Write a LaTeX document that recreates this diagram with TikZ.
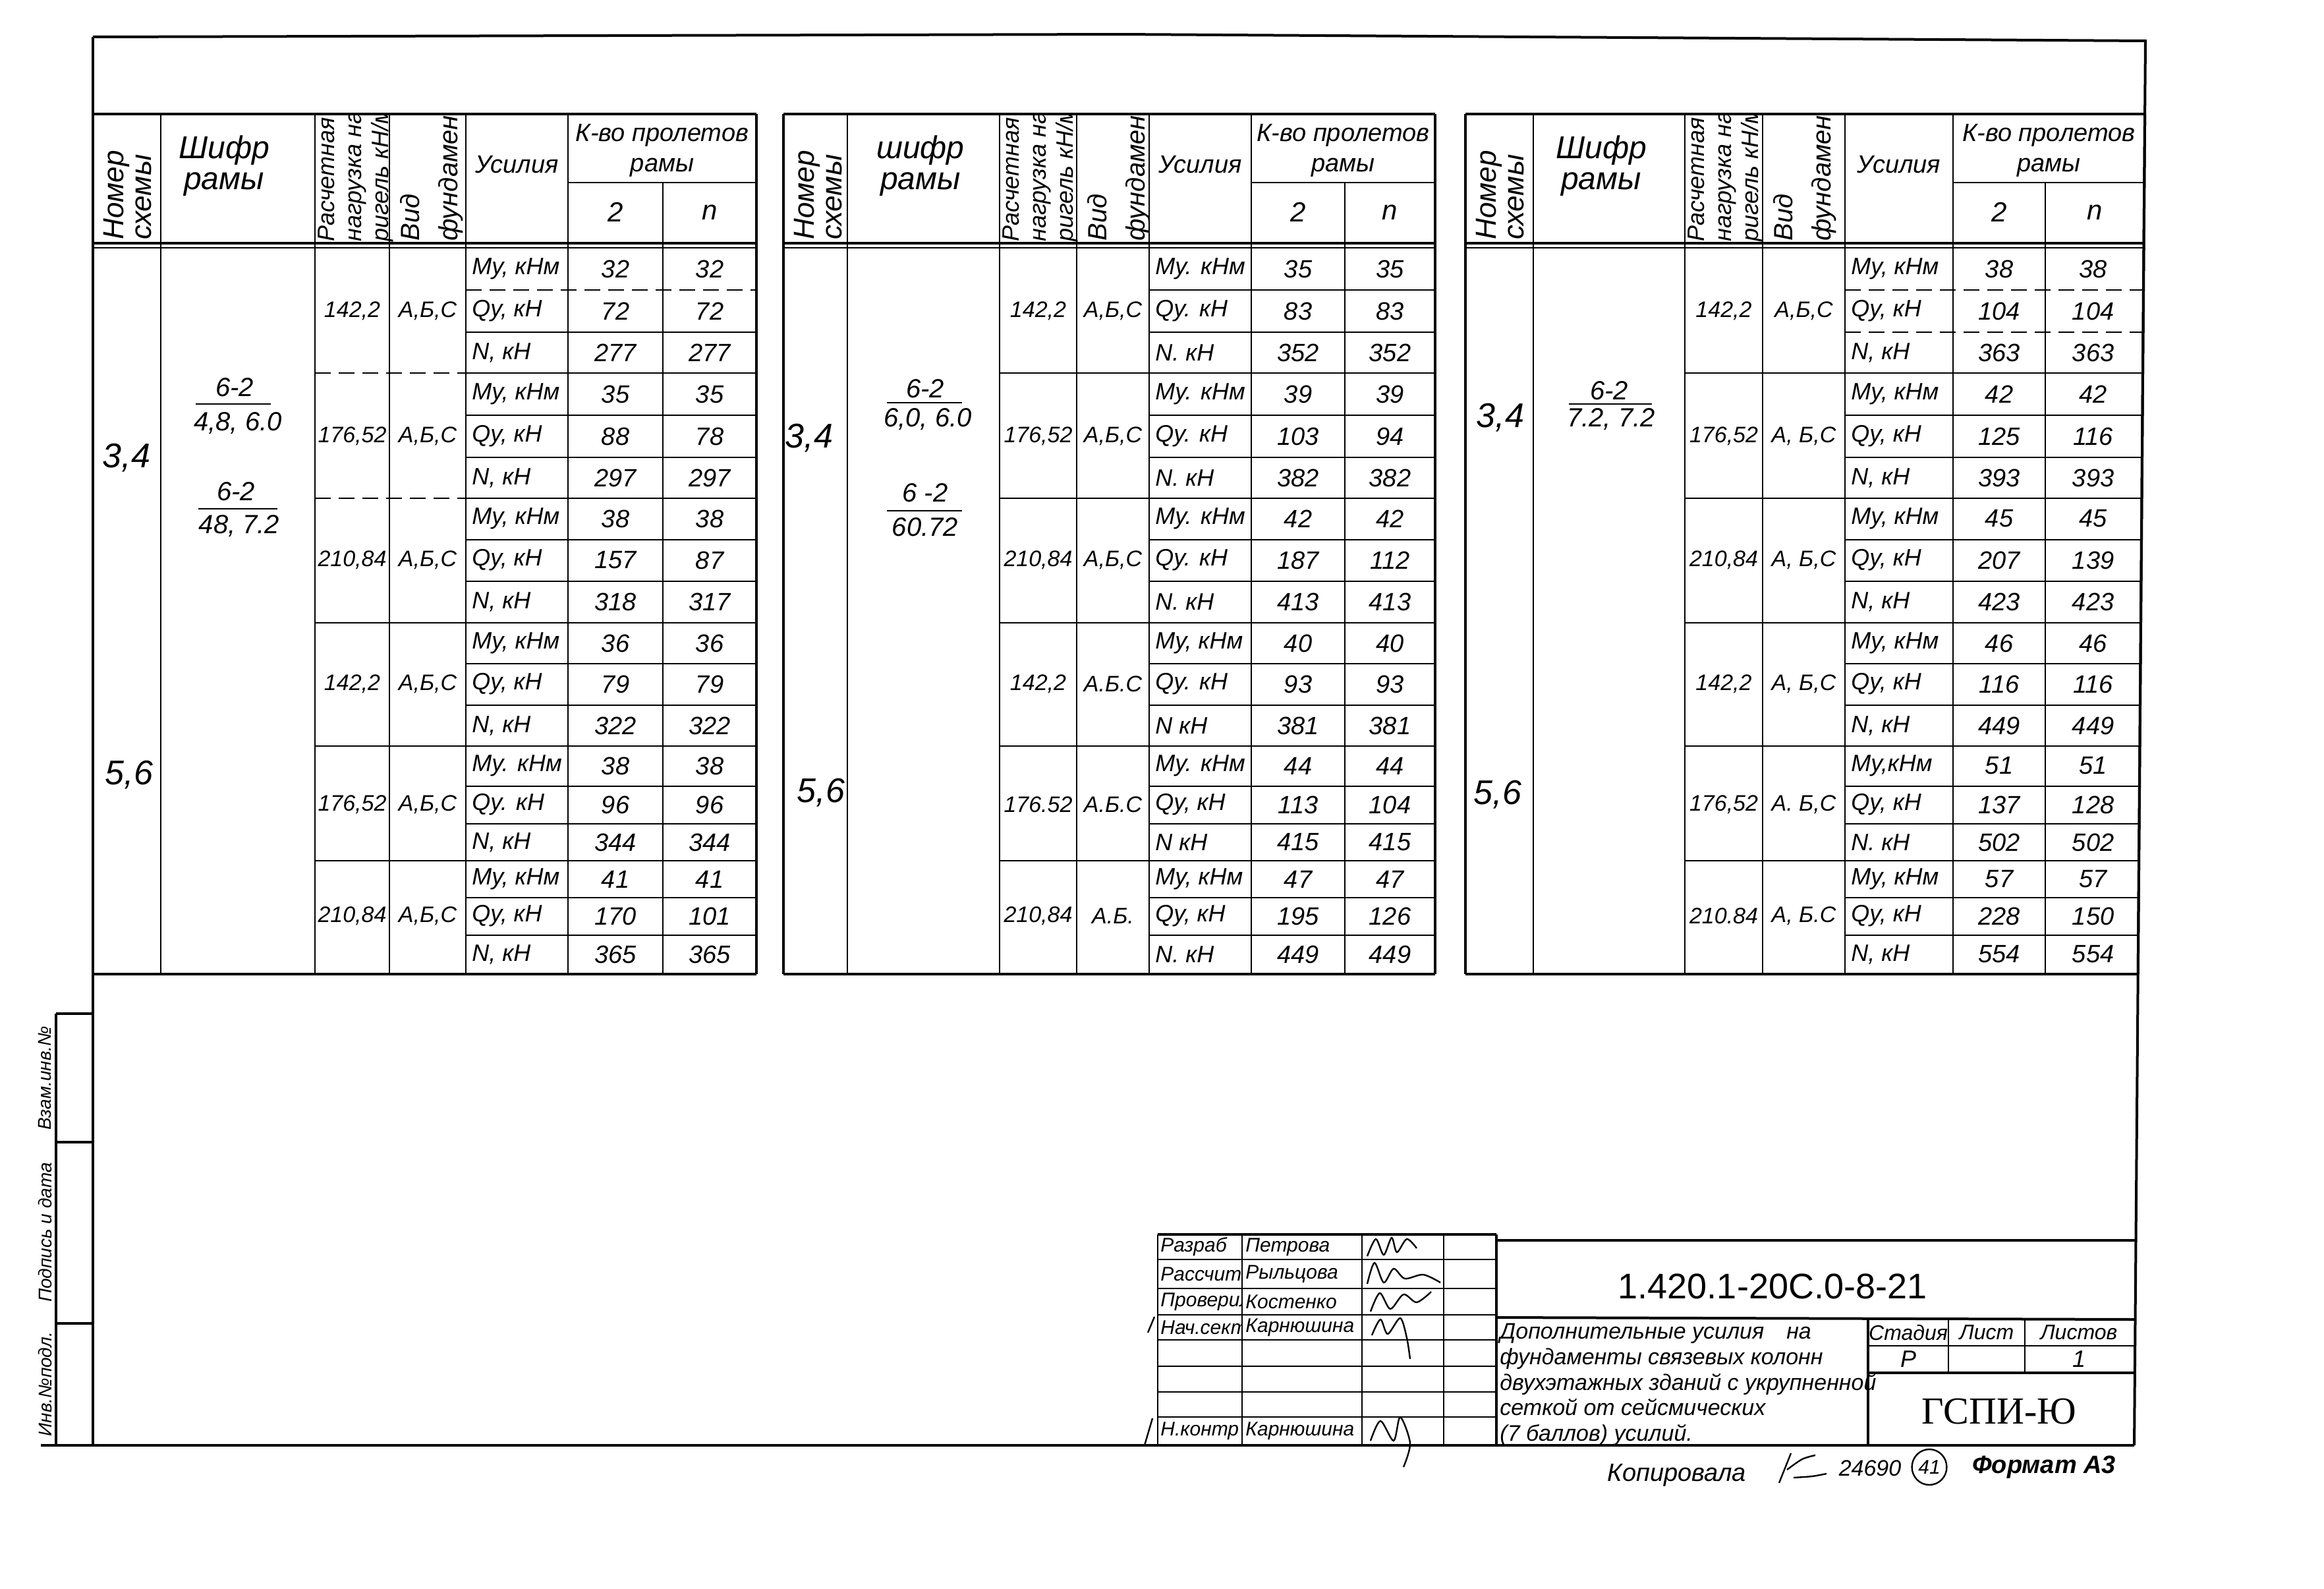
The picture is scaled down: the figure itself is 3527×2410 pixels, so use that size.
\documentclass[tikz,border=0pt]{standalone}
\usepackage{fontspec}
\usetikzlibrary{shapes.geometric}
\setmainfont{Liberation Sans}
\newfontfamily\gostserif{Liberation Serif}
\newcommand\fsz[2]{\fontsize{#1pt}{#2pt}\selectfont}
\newcommand\hw{\itshape}
\newcommand\setcols[9]{\def\cA{#1}\def\cB{#2}\def\cC{#3}\def\cD{#4}\def\cE{#5}\def\cF{#6}\def\cG{#7}\def\cH{#8}\def\cS{#9}}
\newcommand\tgrid{%
  \foreach \x in {\cB,\cC,\cD,\cE,\cF} {\draw[tl] (\x,173) -- (\x,1478);}
  \draw[fr] (\cA,173) -- (\cA,1478);
  \draw[tl] (\cG,277) -- (\cG,1478);
  \draw[fr] ({\cH-\cS*173},173) -- ({\cH-\cS*1478},1478);
  \draw[fr] (\cA,173) -- ({\cH-\cS*173},173);
  \draw[tl] (\cF,277) -- ({\cH-\cS*277},277);
  \draw[fr] (\cA,369) -- ({\cH-\cS*369},369);
  \draw[tl] (\cA,376) -- ({\cH-\cS*376},376);
  \draw[fr] (\cA,1478) -- ({\cH-\cS*1478},1478);
}
\newcommand\rlines[2]{%
  \foreach \y in {#1} {\draw[tl] (\cE,\y) -- ({\cH-\cS*\y},\y);}
  \foreach \y in {#2} {\draw[tl,dashln] (\cE,\y) -- ({\cH-\cS*\y},\y);}
}
\newcommand\glines[2]{%
  \foreach \y in {#1} {\draw[tl] (\cC,\y) -- (\cE,\y);}
  \foreach \y in {#2} {\draw[tl,dashln] (\cC,\y) -- (\cE,\y);}
}
\newcommand\rowtxt[2]{%
  \foreach \i/\l/\u/\v in {#2} {
    \pgfmathsetmacro\yy{{0,408,472,535,598,662,725,787,850,913,976,1038,1101,1162,1221,1278,1334,1390,1448}[\i]}
    \node[lbl] (#1l\i) at (\cE+9,\yy) {\l};
    \node[num] (#1a\i) at ({(\cF+\cG)/2},\yy) {\u};
    \node[num] (#1b\i) at ({(\cG+\cH-\cS*900)/2},\yy) {\v};
  }
}
\newcommand\grptxt[2]{%
  \foreach \i/\p/\q in {#2} {
    \pgfmathsetmacro\yy{{0,472,662,850,1038,1221,1390}[\i]}
    \node[grp] (#1p\i) at ({(\cC+\cD)/2},\yy) {\p};
    \node[grp] (#1q\i) at ({(\cD+\cE)/2},\yy) {\q};
  }
}
\newcommand\thead[3]{%
  \node[hrot,font=\hw\fsz{22}{21}] (#1hn) at (\cA+16,364) {Номер\\схемы};
  \node[shf] (#1hs1) at (#2,228) {#3};
  \node[shf] (#1hs2) at (#2,280) {рамы};
  \begin{scope}
    \clip (\cC,173) rectangle (\cE,369);
    \node[hrot,font=\hw\fsz{18}{20.5}] (#1hr) at (\cC+4,367) {Расчетная\\нагрузка на\\ригель кН/м};
    \node[hrot,font=\hw\fsz{20}{29}] (#1hv) at (\cD+16,366) {Вид\\фундамента};
  \end{scope}
  \node[hdr] (#1hu) at ({(\cE+\cF)/2},250) {Усилия};
  \node[hdr] (#1hk) at ({(\cF+\cH-\cS*200)/2},205) {К-во пролетов};
  \node[hdr] (#1hk2) at ({(\cF+\cH-\cS*200)/2},254) {рамы};
  \node[num,font=\hw\fsz{21}{23}] (#1h2) at ({(\cF+\cG)/2},322) {2};
  \node[num,font=\hw\fsz{21}{23}] (#1hn2) at ({(\cG+\cH-\cS*300)/2},322) {n};
}
\begin{document}
\begin{tikzpicture}[x=0.5pt,y=-0.5pt,
  tl/.style={line width=1.3pt},
  fr/.style={line width=2pt},
  dashln/.style={dash pattern=on 12pt off 6pt},
  lbl/.style={anchor=west,inner sep=0pt,font=\hw\fsz{18}{20}},
  num/.style={inner sep=0pt,font=\hw\fsz{19}{21}},
  grp/.style={inner sep=0pt,font=\hw\fsz{17}{19}},
  hrot/.style={rotate=90,anchor=north west,align=left,inner sep=0pt},
  big/.style={inner sep=0pt,font=\hw\fsz{26}{28}},
  frac/.style={inner sep=0pt,font=\hw\fsz{20}{22}},
  hdr/.style={inner sep=0pt,font=\hw\fsz{19}{21}},
  shf/.style={inner sep=0pt,font=\hw\fsz{24}{26}},
  tb/.style={inner sep=0pt,font=\hw\fsz{15}{17},anchor=west},
  sig/.style={line width=1.2pt}]
\fill[white] (0,0) rectangle (3527,2410);
\useasboundingbox (0,0) rectangle (3527,2410);

% ---------- outer frame ----------
\draw[fr] (141,56) -- (1700,52) -- (3256,62);
\draw[fr] (141,56) -- (141,2193);
\draw[fr] (3256,60) -- (3239,2193);
\draw[fr] (62,2193) -- (3239,2193);
% left strip
\draw[fr] (85,1538) -- (85,2193);
\foreach \y in {1538,1733,2008} {\draw[fr] (85,\y) -- (141,\y);}
\node[rotate=90,inner sep=0pt,font=\hw\fsz{14}{16}] (s1) at (68,1636) {Взам.инв.№};
\node[rotate=90,inner sep=0pt,font=\hw\fsz{14}{16}] (s2) at (68,1870) {Подпись и дата};
\node[rotate=90,inner sep=0pt,font=\hw\fsz{14}{16}] (s3) at (68,2100) {Инв.№подл.};

% ---------- table 1 ----------
\setcols{141}{244}{478}{591}{707}{862}{1006}{1148}{0}
\tgrid
\rlines{504,566,630,694,756,819,882,945,1007,1070,1132,1193,1250,1306,1362,1419}{440}
\glines{945,1132,1306}{566,756}
\thead{t1}{340}{Шифр}
\node[big] (t1s34) at (192,695) {3,4};
\node[big] (t1s56) at (196,1176) {5,6};
\node[frac] (t1f1n) at (356,588) {6-2};
\draw[tl] (297,613) -- (411,613);
\node[frac] (t1f1d) at (361,642) {4,8, 6.0};
\node[frac] (t1f2n) at (358,746) {6-2};
\draw[tl] (301,772) -- (421,772);
\node[frac] (t1f2d) at (363,798) {48, 7.2};
\grptxt{t1}{1/{142,2}/{А,Б,С}, 2/{176,52}/{А,Б,С}, 3/{210,84}/{А,Б,С}, 4/{142,2}/{А,Б,С}, 5/{176,52}/{А,Б,С}, 6/{210,84}/{А,Б,С}}
\rowtxt{t1}{1/{My, кНм}/32/32, 2/{Qy, кН}/72/72, 3/{N, кН}/277/277, 4/{My, кНм}/35/35, 5/{Qy, кН}/88/78, 6/{N, кН}/297/297, 7/{My, кНм}/38/38, 8/{Qy, кН}/157/87, 9/{N, кН}/318/317, 10/{My, кНм}/36/36, 11/{Qy, кН}/79/79, 12/{N, кН}/322/322, 13/{My. кНм}/38/38, 14/{Qy. кН}/96/96, 15/{N, кН}/344/344, 16/{My, кНм}/41/41, 17/{Qy, кН}/170/101, 18/{N, кН}/365/365}

% ---------- table 2 ----------
\setcols{1189}{1286}{1517}{1634}{1744}{1899}{2041}{2178}{0}
\tgrid
\rlines{440,504,566,630,694,756,819,882,945,1007,1070,1132,1193,1250,1306,1362,1419}{1478}
\glines{566,756,945,1132,1306}{1478}
\thead{t2}{1397}{шифр}
\node[big] (t2s34) at (1228,665) {3,4};
\node[big] (t2s56) at (1246,1203) {5,6};
\node[frac] (t2f1n) at (1404,590) {6-2};
\draw[tl] (1346,611) -- (1460,611);
\node[frac] (t2f1d) at (1408,636) {6,0, 6.0};
\node[frac] (t2f2n) at (1404,748) {6 -2};
\draw[tl] (1346,775) -- (1460,775);
\node[frac] (t2f2d) at (1404,800) {60.72};
\grptxt{t2}{1/{142,2}/{А,Б,С}, 2/{176,52}/{А,Б,С}, 3/{210,84}/{А,Б,С}, 4/{142,2}/{А.Б.С}, 5/{176.52}/{А.Б.С}, 6/{210,84}/{А.Б.}}
\rowtxt{t2}{1/{My. кНм}/35/35, 2/{Qy. кН}/83/83, 3/{N. кН}/352/352, 4/{My. кНм}/39/39, 5/{Qy. кН}/103/94, 6/{N. кН}/382/382, 7/{My. кНм}/42/42, 8/{Qy. кН}/187/112, 9/{N. кН}/413/413, 10/{My, кНм}/40/40, 11/{Qy. кН}/93/93, 12/{N кН}/381/381, 13/{My. кНм}/44/44, 14/{Qy, кН}/113/104, 15/{N кН}/415/415, 16/{My, кНм}/47/47, 17/{Qy, кН}/195/126, 18/{N. кН}/449/449}

% ---------- table 3 ----------
\setcols{2224}{2327}{2557}{2675}{2800}{2964}{3104}{3256.48}{0.00797}
\tgrid
\rlines{566,630,694,756,819,882,945,1007,1070,1132,1193,1250,1306,1362,1419}{440,504}
\glines{566,756,945,1132,1306}{1478}
\thead{t3}{2430}{Шифр}
\node[big] (t3s34) at (2277,634) {3,4};
\node[big] (t3s56) at (2273,1206) {5,6};
\node[frac] (t3f1n) at (2442,593) {6-2};
\draw[tl] (2381,613) -- (2507,613);
\node[frac] (t3f1d) at (2445,636) {7.2, 7.2};
\grptxt{t3}{1/{142,2}/{А,Б,С}, 2/{176,52}/{А, Б,С}, 3/{210,84}/{А, Б,С}, 4/{142,2}/{А, Б,С}, 5/{176,52}/{А. Б,С}, 6/{210.84}/{А, Б.С}}
\rowtxt{t3}{1/{My, кНм}/38/38, 2/{Qy, кН}/104/104, 3/{N, кН}/363/363, 4/{My, кНм}/42/42, 5/{Qy, кН}/125/116, 6/{N, кН}/393/393, 7/{My, кНм}/45/45, 8/{Qy, кН}/207/139, 9/{N, кН}/423/423, 10/{My, кНм}/46/46, 11/{Qy, кН}/116/116, 12/{N, кН}/449/449, 13/{My,кНм}/51/51, 14/{Qy, кН}/137/128, 15/{N. кН}/502/502, 16/{My, кНм}/57/57, 17/{Qy, кН}/228/150, 18/{N, кН}/554/554}

% ---------- title block ----------
\foreach \x in {1757,1885,2067,2191} {\draw[tl] (\x,1873) -- (\x,2193);}
\draw[fr] (2271,1873) -- (2271,2193);
\foreach \y in {1911,1955,1995,2033,2073,2112,2150} {\draw[tl] (1757,\y) -- (2271,\y);}
\draw[fr] (1757,1873) -- (2271,1873);
\draw[fr] (2271,1882) -- (3241,1882);
\draw[fr] (2271,1999) -- (3240,2002);
\draw[fr] (2835,2002) -- (2835,2193);
\draw[tl] (2835,2042) -- (3240,2042);
\draw[fr] (2835,2083) -- (3240,2083);
\draw[tl] (2957,2002) -- (2957,2083);
\draw[tl] (3073,2002) -- (3073,2083);
\begin{scope}
  \clip (1759,1873) rectangle (1884,2193);
  \node[tb] (r1) at (1761,1892) {Разраб};
  \node[tb] (r2) at (1761,1933) {Рассчитал};
  \node[tb] (r3) at (1761,1975) {Проверил};
  \node[tb] (r4) at (1761,2014) {Нач.сект};
  \node[tb] (r8) at (1761,2171) {Н.контр};
\end{scope}
\begin{scope}
  \clip (1887,1873) rectangle (2066,2193);
  \node[tb] (n1) at (1890,1892) {Петрова};
  \node[tb] (n2) at (1890,1933) {Рыльцова};
  \node[tb] (n3) at (1890,1975) {Костенко};
  \node[tb] (n4) at (1890,2014) {Карнюшина};
  \node[tb] (n8) at (1890,2171) {Карнюшина};
\end{scope}
\draw[sig] plot[smooth] coordinates {(2075,1906) (2088,1880) (2100,1904) (2112,1878) (2120,1900) (2135,1880) (2150,1894)};
\draw[sig] plot[smooth] coordinates {(2075,1948) (2086,1916) (2100,1946) (2115,1925) (2132,1940) (2160,1934) (2186,1946)};
\draw[sig] plot[smooth] coordinates {(2080,1990) (2094,1962) (2110,1986) (2130,1964) (2150,1976) (2172,1960)};
\draw[sig] plot[smooth] coordinates {(2082,2026) (2095,2002) (2106,2024) (2125,2000) (2135,2030) (2140,2062)};
\draw[sig] plot[smooth] coordinates {(2080,2186) (2095,2156) (2115,2186) (2125,2150) (2140,2190) (2130,2226)};
\draw[sig] (1742,2022) -- (1752,1998);
\draw[sig] (1737,2193) -- (1749,2152);
\node[inner sep=0pt,font=\fsz{27}{29}] (desig) at (2690,1952) {1.420.1-20С.0-8-21};
\node[anchor=north west,align=left,inner sep=0pt,font=\hw\fsz{17}{19.3}] (descr) at (2276,2008)
  {Дополнительные усилия\quad на\\фундаменты связевых колонн\\двухэтажных зданий с укрупненной\\сеткой от сейсмических\\(7 баллов) усилий.};
\node[inner sep=0pt,font=\hw\fsz{16}{18}] (st1) at (2896,2022) {Стадия};
\node[inner sep=0pt,font=\hw\fsz{16}{18}] (st2) at (3015,2022) {Лист};
\node[inner sep=0pt,font=\hw\fsz{16}{18}] (st3) at (3155,2022) {Листов};
\node[inner sep=0pt,font=\hw\fsz{18}{20}] (sv1) at (2896,2062) {Р};
\node[inner sep=0pt,font=\hw\fsz{18}{20}] (sv3) at (3155,2062) {1};
\node[inner sep=0pt,font=\gostserif\fsz{29}{31}] (org) at (3034,2142) {ГСПИ-Ю};

% ---------- below frame ----------
\node[inner sep=0pt,font=\hw\fsz{19}{21}] (kop) at (2545,2238) {Копировала};
\draw[sig] (2700,2250) -- (2718,2205);
\draw[sig] plot[smooth] coordinates {(2712,2230) (2735,2214) (2755,2208)};
\draw[sig] plot[smooth] coordinates {(2722,2242) (2750,2240) (2772,2236)};
\node[inner sep=0pt,font=\hw\fsz{17}{19}] (inv) at (2838,2228) {24690};
\node[draw,ellipse,line width=1.2pt,inner sep=1pt,minimum width=21pt,minimum height=27pt,font=\hw\fsz{15}{17}] (sheet) at (2928,2226) {41};
\node[inner sep=0pt,font=\hw\bfseries\fsz{19}{21}] (fmt) at (3102,2226) {Формат А3};
\end{tikzpicture}
\end{document}
